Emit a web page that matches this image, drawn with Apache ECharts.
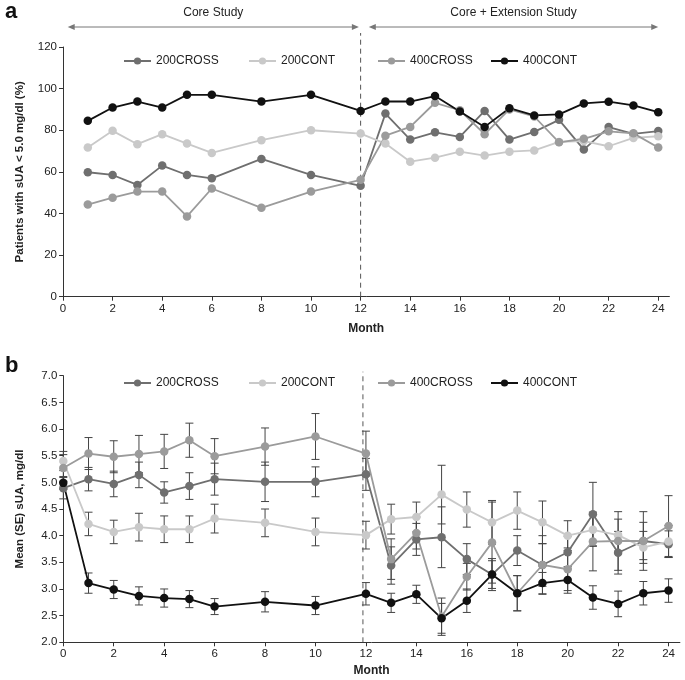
<!DOCTYPE html>
<html><head><meta charset="utf-8">
<script src="https://cdn.jsdelivr.net/npm/echarts@6/dist/echarts.min.js"></script>
<style>html,body{margin:0;padding:0;background:#fff}#c{width:685px;height:680px}</style>
</head><body><div id="c"></div>
<script>
// ---------- data ----------
const seriesNames = ['200CROSS', '200CONT', '400CROSS', '400CONT'];
const monthTicks = [0,2,4,6,8,10,12,14,16,18,20,22,24];
const phaseLabels = ['Core Study', 'Core + Extension Study'];
const phaseStart = [0.19, 12.33];
const phaseEnd = [11.93, 24];

// Panel a: % patients with sUA < 5.0 mg/dl
const monthsA = [1,2,3,4,5,6,8,10,12,13,14,15,16,17,18,19,20,21,22,23,24];
const a200CROSS = [59.8,58.5,53.7,63.0,58.5,56.9,66.2,58.5,53.3,88.0,75.5,79.0,76.8,89.3,75.5,79.2,85.0,70.7,81.5,78.2,79.6];
const a200CONT  = [71.7,79.7,73.3,78.1,73.6,69.1,75.2,80.0,78.4,73.6,64.9,66.8,69.7,67.8,69.7,70.3,74.4,74.8,72.3,76.3,77.1];
const a400CROSS = [44.3,47.6,50.5,50.5,38.6,52.0,42.7,50.5,56.2,77.4,81.6,93.2,89.6,78.1,90.0,86.6,74.2,75.9,79.5,78.5,71.7];
const a400CONT  = [84.5,90.9,93.8,90.9,97.0,97.0,93.8,97.0,89.3,93.8,93.8,96.4,89.0,81.6,90.6,87.1,87.6,92.9,93.7,91.9,88.7];

// Panel b: mean (SE) sUA, mg/dl
const monthsB = [0,1,2,3,4,5,6,8,10,12,13,14,15,16,17,18,19,20,21,22,23,24];
const b200CROSS = [4.89,5.06,4.97,5.14,4.81,4.93,5.06,5.01,5.01,5.15,3.44,3.93,3.97,3.56,3.27,3.72,3.45,3.69,4.40,3.68,3.90,3.84];
const s200CROSS = [0.20,0.22,0.24,0.24,0.20,0.25,0.30,0.37,0.28,0.30,0.35,0.30,0.57,0.29,0.26,0.28,0.40,0.30,0.60,0.40,0.35,0.25];
const b200CONT  = [5.40,4.22,4.07,4.16,4.12,4.12,4.32,4.24,4.07,4.01,4.31,4.35,4.77,4.49,4.25,4.47,4.25,4.00,4.11,4.01,3.78,3.89];
const s200CONT  = [0.18,0.22,0.22,0.26,0.25,0.25,0.27,0.26,0.26,0.26,0.28,0.28,0.55,0.33,0.41,0.35,0.40,0.28,0.30,0.30,0.30,0.30];
const b400CROSS = [5.27,5.54,5.48,5.53,5.58,5.79,5.49,5.67,5.86,5.54,3.56,4.05,2.48,3.23,3.87,2.92,3.45,3.37,3.89,3.90,3.90,4.18];
const s400CROSS = [0.25,0.30,0.30,0.35,0.32,0.32,0.33,0.35,0.43,0.42,0.38,0.30,0.35,0.25,0.76,0.33,0.55,0.40,0.55,0.55,0.55,0.57];
const b400CONT  = [4.99,3.11,2.99,2.87,2.83,2.81,2.67,2.76,2.69,2.91,2.74,2.90,2.45,2.78,3.27,2.92,3.11,3.17,2.84,2.72,2.92,2.97];
const s400CONT  = [0.12,0.19,0.17,0.17,0.17,0.16,0.15,0.19,0.17,0.21,0.18,0.17,0.28,0.22,0.30,0.33,0.20,0.25,0.22,0.24,0.22,0.22];

// ---------- styling ----------
const FONT = '"Liberation Sans", Arial, Helvetica, sans-serif';
const colors = {'200CROSS':'#6f6f6f','200CONT':'#c9c9c9','400CROSS':'#9b9b9b','400CONT':'#111111'};
const TXT = '#222';

const aData = {'200CROSS':a200CROSS,'200CONT':a200CONT,'400CROSS':a400CROSS,'400CONT':a400CONT};
const bData = {'200CROSS':[b200CROSS,s200CROSS],'200CONT':[b200CONT,s200CONT],'400CROSS':[b400CROSS,s400CROSS],'400CONT':[b400CONT,s400CONT]};

function xAxisCfg(gridIndex, gap){
  return {
    type:'value', gridIndex, min:0, max:24.45,
    name:'Month', nameLocation:'middle', nameGap:gap,
    nameTextStyle:{fontFamily:FONT, fontWeight:'bold', fontSize:12, color:TXT},
    axisLine:{show:true, lineStyle:{color:'#333', width:1}},
    axisTick:{show:true, inside:false, length:4, lineStyle:{color:'#333'}, customValues:monthTicks},
    axisLabel:{fontFamily:FONT, fontSize:11.5, color:TXT, margin:6, customValues:monthTicks},
    splitLine:{show:false}
  };
}
function yAxisCfg(gridIndex, min, max, interval, name, fmt){
  return {
    type:'value', gridIndex, min, max, interval,
    name, nameLocation:'middle', nameGap:37, nameRotate:90,
    nameTextStyle:{fontFamily:FONT, fontWeight:'bold', fontSize:11.5, color:TXT},
    axisLine:{show:true, lineStyle:{color:'#333', width:1}},
    axisTick:{show:true, inside:false, length:4, lineStyle:{color:'#333'}},
    axisLabel:{fontFamily:FONT, fontSize:11.5, color:TXT, margin:6, formatter:fmt},
    splitLine:{show:false}
  };
}

const series = [];
seriesNames.forEach(n => {
  series.push({
    name:n, type:'line', xAxisIndex:0, yAxisIndex:0,
    data: monthsA.map((m,i)=>[m, aData[n][i]]),
    symbol:'circle', symbolSize:8.5, showSymbol:true,
    lineStyle:{color:colors[n], width:1.8}, itemStyle:{color:colors[n]},
    z:3, animation:false
  });
});
seriesNames.forEach(n => {
  const [mean, se] = bData[n];
  series.push({
    name:n+' SE', type:'custom', xAxisIndex:1, yAxisIndex:1,
    data: monthsB.map((m,i)=>[m, mean[i]-se[i], mean[i]+se[i]]),
    encode:{x:0, y:[1,2]}, silent:true, z:2, clip:false,
    renderItem(params, api){
      const lo = api.coord([api.value(0), api.value(1)]);
      const hi = api.coord([api.value(0), api.value(2)]);
      const w = 4;
      const st = {stroke:'#444', lineWidth:1};
      return {type:'group', children:[
        {type:'line', shape:{x1:lo[0],y1:lo[1],x2:hi[0],y2:hi[1]}, style:st},
        {type:'line', shape:{x1:lo[0]-w,y1:lo[1],x2:lo[0]+w,y2:lo[1]}, style:st},
        {type:'line', shape:{x1:hi[0]-w,y1:hi[1],x2:hi[0]+w,y2:hi[1]}, style:st}
      ]};
    }
  });
});
seriesNames.forEach(n => {
  const [mean] = bData[n];
  series.push({
    name:n, type:'line', xAxisIndex:1, yAxisIndex:1,
    data: monthsB.map((m,i)=>[m, mean[i]]),
    symbol:'circle', symbolSize:8.5, showSymbol:true,
    lineStyle:{color:colors[n], width:1.8}, itemStyle:{color:colors[n]},
    z:3, animation:false
  });
});
// dashed dividers
series.push({
  name:'dividerA', type:'custom', xAxisIndex:0, yAxisIndex:0, silent:true, clip:false, z:1,
  data:[[12,0,120]], encode:{x:0,y:[1,2]},
  renderItem(params, api){
    const p0 = api.coord([api.value(0), api.value(1)]);
    const p1 = api.coord([api.value(0), api.value(2)]);
    return {type:'line', shape:{x1:p0[0],y1:p0[1],x2:p0[0],y2:p1[1]-14}, style:{stroke:'#555', lineWidth:1, lineDash:[5,4]}};
  }
});
series.push({
  name:'dividerB', type:'custom', xAxisIndex:1, yAxisIndex:1, silent:true, clip:false, z:1,
  data:[[12,2,7]], encode:{x:0,y:[1,2]},
  renderItem(params, api){
    const p0 = api.coord([api.value(0), api.value(1)]);
    const p1 = api.coord([api.value(0), api.value(2)]);
    const x = p0[0]-3;
    return {type:'line', shape:{x1:x,y1:p0[1],x2:x,y2:p1[1]-4}, style:{stroke:'#555', lineWidth:1, lineDash:[5,4]}};
  }
});
// phase arrows
series.push({
  name:'phases', type:'custom', xAxisIndex:0, yAxisIndex:0, silent:true, clip:false, z:1,
  data: phaseStart.map((s,i)=>[s, phaseEnd[i], 120]), encode:{x:[0,1], y:2},
  renderItem(params, api){
    const a = api.coord([api.value(0), api.value(2)]);
    const b = api.coord([api.value(1), api.value(2)]);
    const y = a[1]-20;
    const c = '#777';
    return {type:'group', children:[
      {type:'line', shape:{x1:a[0]+5,y1:y,x2:b[0]-5,y2:y}, style:{stroke:c, lineWidth:1}},
      {type:'polygon', shape:{points:[[a[0],y],[a[0]+7,y-3],[a[0]+7,y+3]]}, style:{fill:c}},
      {type:'polygon', shape:{points:[[b[0],y],[b[0]-7,y-3],[b[0]-7,y+3]]}, style:{fill:c}},
      {type:'text', style:{text:phaseLabels[params.dataIndex], x:(a[0]+b[0])/2, y:y-14, align:'center', verticalAlign:'middle', font:'12px "Liberation Sans", Arial', fill:TXT}}
    ]};
  }
});

const legendLeft = [123, 248, 377, 490];
function legends(top){
  return seriesNames.map((n,i)=>({
    data:[n], left:legendLeft[i], top, padding:0, itemWidth:27, itemHeight:9, itemGap:6,
    textStyle:{fontFamily:FONT, fontSize:12, color:TXT}, selectedMode:false
  }));
}

const option = {
  backgroundColor:'#fff',
  animation:false,
  title:[
    {text:'a', left:0, top:-4, textStyle:{fontFamily:FONT, fontWeight:'bold', fontSize:22, color:'#111'}},
    {text:'b', left:0, top:350, textStyle:{fontFamily:FONT, fontWeight:'bold', fontSize:22, color:'#111'}}
  ],
  legend:[...legends(55), ...legends(377)],
  grid:[
    {left:63, top:47, width:606.4, height:249.7, containLabel:false},
    {left:63.3, top:375.7, width:616.6, height:266.6, containLabel:false}
  ],
  xAxis:[xAxisCfg(0, 26), xAxisCfg(1, 22)],
  yAxis:[
    yAxisCfg(0, 0, 120, 20, 'Patients with sUA < 5.0 mg/dl (%)', v=>String(v)),
    yAxisCfg(1, 2, 7, 0.5, 'Mean (SE) sUA, mg/dl', v=>v.toFixed(1))
  ],
  series
};
const chart = echarts.init(document.getElementById('c'), null, {renderer:'canvas'});
chart.setOption(option);
</script></body></html>
